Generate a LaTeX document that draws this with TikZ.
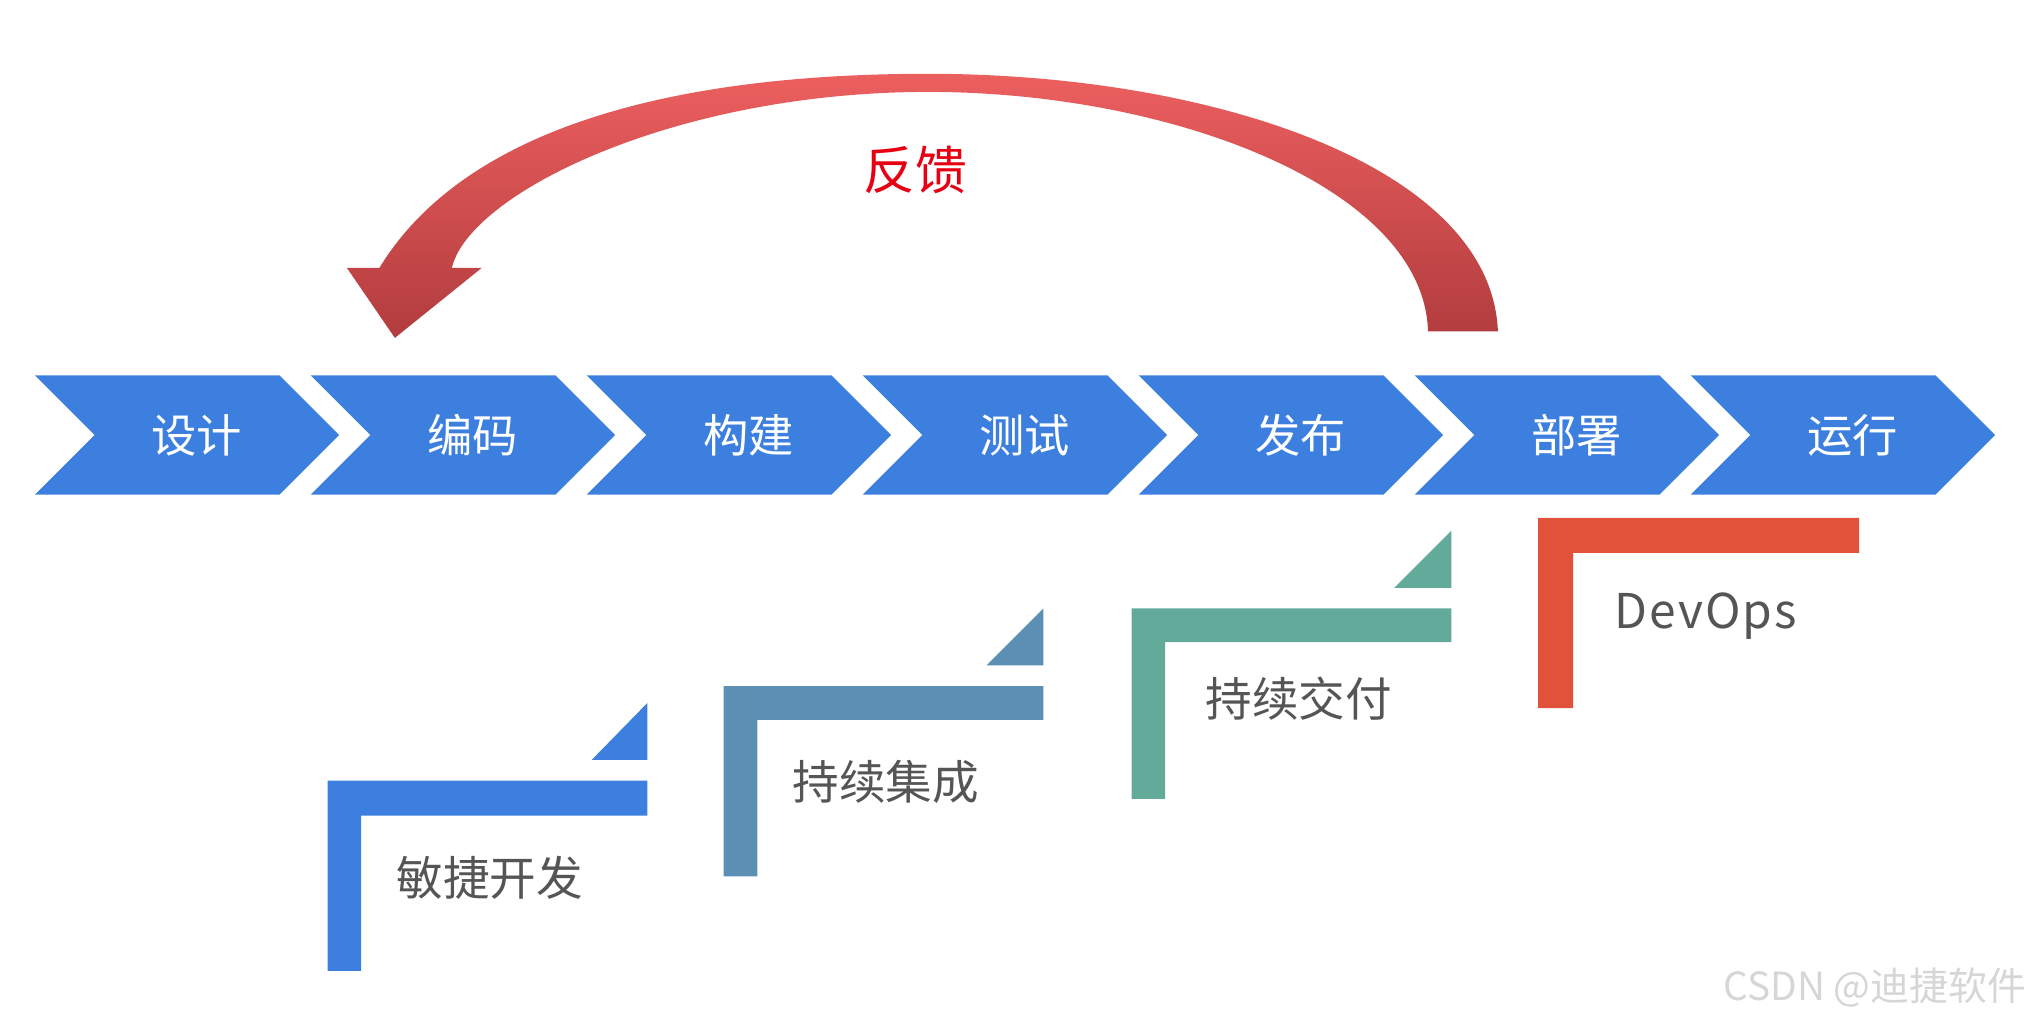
\documentclass[tikz,border=0pt]{standalone}
\usepackage{fontspec}
\setmainfont{Noto Sans CJK SC}
\definecolor{cblue}{HTML}{3C7FDE}
\definecolor{csteel}{HTML}{5B8FB4}
\definecolor{cteal}{HTML}{62AB9A}
\definecolor{corange}{HTML}{E0533A}
\definecolor{fbtop}{HTML}{EC5F5F}
\definecolor{fbbot}{HTML}{B23C3E}
\definecolor{fbtext}{HTML}{E60012}
\definecolor{graytext}{HTML}{555555}
\definecolor{wmark}{HTML}{D6D6D6}
\tikzset{
  chevlab/.style={text=white, inner sep=0pt, font=\fontsize{35}{40}\selectfont},
  steplab/.style={text=graytext, inner sep=0pt, anchor=west, font=\fontsize{36}{40}\selectfont},
  fblab/.style={text=fbtext, inner sep=0pt, font=\fontsize{40}{44}\selectfont},
  wmlab/.style={text=wmark, inner sep=0pt, anchor=east, font=\fontsize{30}{34}\selectfont}
}
\begin{document}
\begin{tikzpicture}[x=1pt,y=-1pt]
\path[use as bounding box] (0,0) rectangle (1568,789.4);
% process chevrons
\foreach \i/\t in {0/设计,1/编码,2/构建,3/测试,4/发布,5/部署,6/运行} {
  \pgfmathsetmacro\xo{27+213.17*\i}
  \fill[cblue] (\xo,290) -- (\xo+189,290) -- (\xo+235,336) -- (\xo+189,382) -- (\xo,382) -- (\xo+46,336) -- cycle;
  \node[chevlab] (c\i) at (\xo+125,336) {\t};
}
% feedback arrow
\shade[top color=fbtop, bottom color=fbbot]
  (1157,256) .. controls (1152,128) and (935,57) .. (717,57)
  .. controls (505,57) and (355,105) .. (293,207)
  -- (268,207) -- (305,261) -- (372,207) -- (349,207)
  .. controls (362,150) and (520,71) .. (717,71)
  .. controls (905,71) and (1100,145) .. (1103,256) -- cycle;
\node[fblab] (fb) at (707,131) {反馈};
% stair steps
\fill[cblue] (253,750) -- (253,603) -- (500,603) -- (500,630) -- (279,630) -- (279,750) -- cycle;
\fill[cblue] (457,587) -- (500,587) -- (500,543) -- cycle;
\node[steplab] (s1) at (306,678) {敏捷开发};
\fill[csteel] (559,677) -- (559,530) -- (806,530) -- (806,556) -- (585,556) -- (585,677) -- cycle;
\fill[csteel] (762,514) -- (806,514) -- (806,470) -- cycle;
\node[steplab] (s2) at (612,604) {持续集成};
\fill[cteal] (874,617) -- (874,470) -- (1121,470) -- (1121,496) -- (900,496) -- (900,617) -- cycle;
\fill[cteal] (1077,454) -- (1121,454) -- (1121,410) -- cycle;
\node[steplab] (s3) at (931,540) {持续交付};
\fill[corange] (1188,547) -- (1188,400) -- (1436,400) -- (1436,427) -- (1215,427) -- (1215,547) -- cycle;
\node[steplab, font=\fontsize{37}{40}\selectfont] (s4) at (1247,476) {\addfontfeature{LetterSpace=4}DevOps};
% watermark
\node[wmlab] (wm) at (1565,763) {CSDN @迪捷软件};
\end{tikzpicture}
\end{document}
